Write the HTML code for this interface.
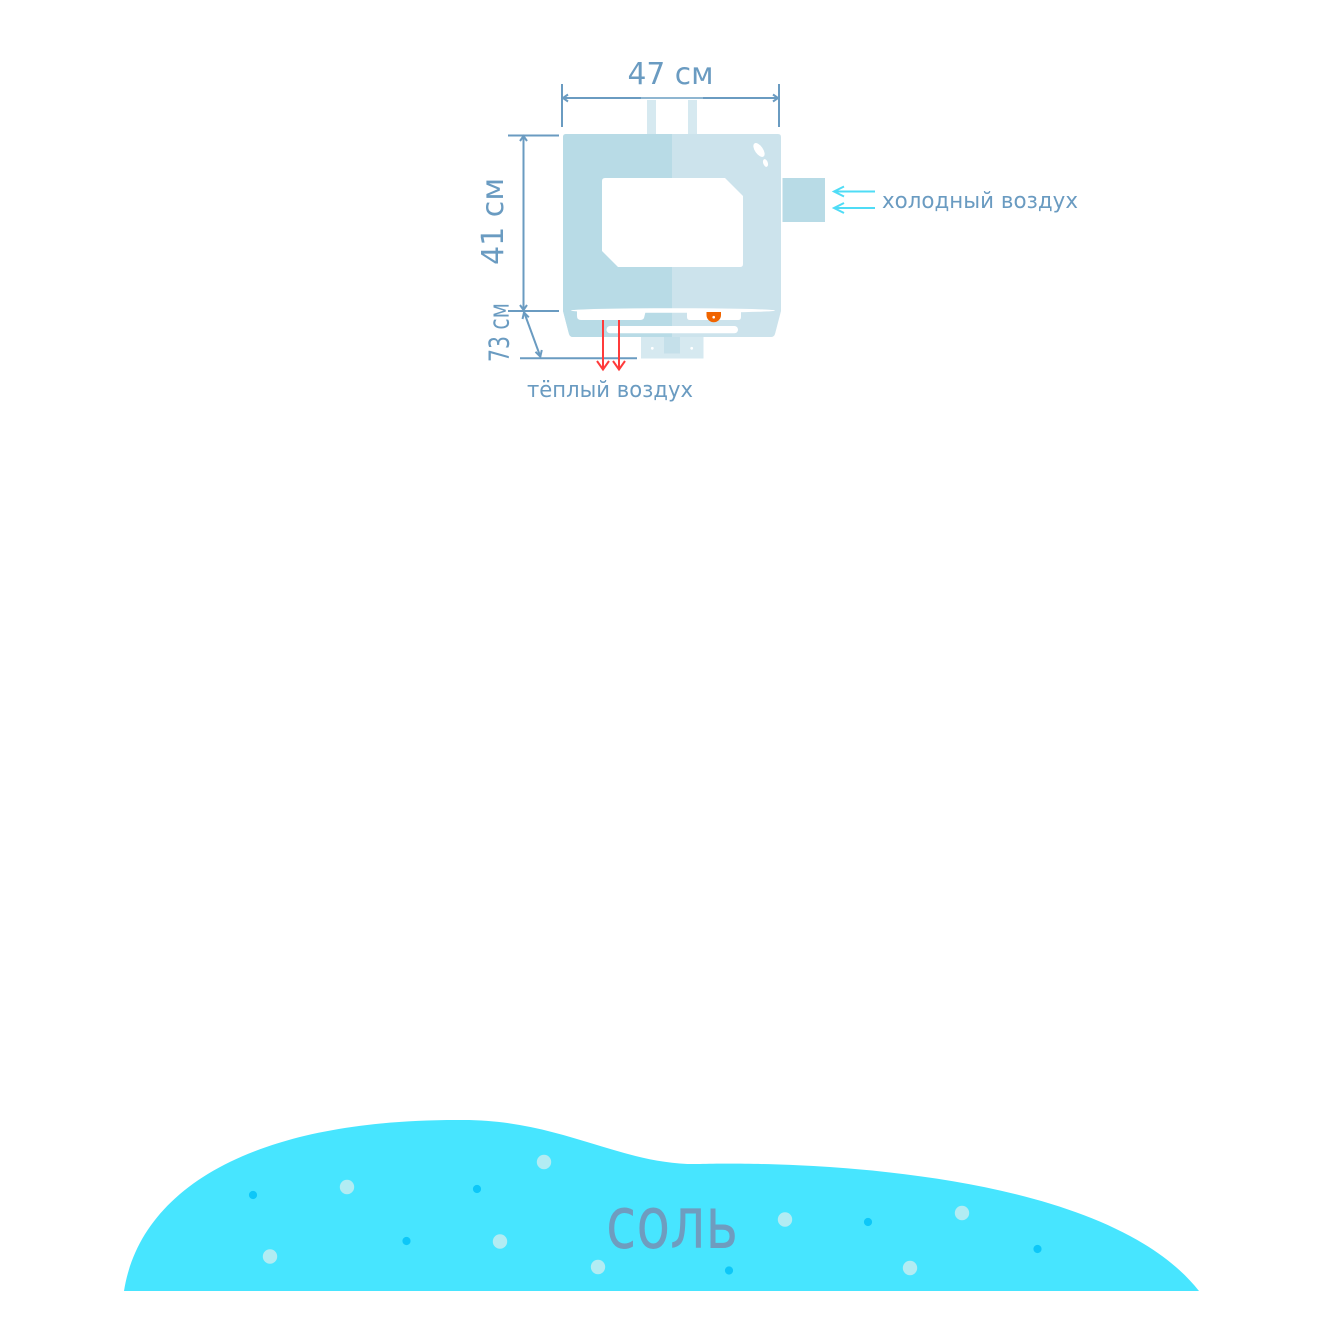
<!DOCTYPE html>
<html>
<head>
<meta charset="utf-8">
<style>
  html,body{margin:0;padding:0;background:#ffffff;}
  svg{display:block;}
  text{font-family:"DejaVu Sans","Liberation Sans",sans-serif;}
</style>
</head>
<body>
<svg width="1323" height="1324" viewBox="0 0 1323 1324" xmlns="http://www.w3.org/2000/svg">
  <defs>
    <clipPath id="leftHalf"><rect x="0" y="0" width="672" height="400"/></clipPath>
  </defs>
  <rect x="0" y="0" width="1323" height="1324" fill="#ffffff"/>

  <!-- pipes -->
  <rect x="647" y="100" width="9" height="35" fill="#d6e9f0"/>
  <rect x="688" y="100" width="9" height="35" fill="#d6e9f0"/>

  <!-- heater body (right colour) -->
  <path d="M563,137 Q563,134 566,134 H778 Q781,134 781,137 V311 L775,334 Q774,337 771,337 H573 Q570,337 569,334 L563,311 Z" fill="#cce3ec"/>
  <!-- left darker half -->
  <path clip-path="url(#leftHalf)" d="M563,137 Q563,134 566,134 H778 Q781,134 781,137 V311 L775,334 Q774,337 771,337 H573 Q570,337 569,334 L563,311 Z" fill="#b8dbe6"/>

  <!-- window -->
  <path d="M605,178 H725 L743,196 V264 Q743,267 740,267 H618 L602,251 V181 Q602,178 605,178 Z" fill="#ffffff"/>

  <!-- highlights -->
  <ellipse cx="759" cy="150" rx="4" ry="8" transform="rotate(-35 759 150)" fill="#ffffff"/>
  <ellipse cx="765.5" cy="163" rx="2.3" ry="4" transform="rotate(-20 765.5 163)" fill="#ffffff"/>

  <!-- side box -->
  <rect x="782.5" y="178" width="42.5" height="44" fill="#b8dbe6"/>

  <!-- lens + tabs -->
  <ellipse cx="673" cy="310.5" rx="102" ry="2.3" fill="#ffffff"/>
  <path d="M577,310 H646 L644,318 Q643,320 640,320 H581 Q577,320 577,316 Z" fill="#ffffff"/>
  <path d="M687,310 H741 L741,317 Q741,320 738,320 H690 Q687,320 687,317 Z" fill="#ffffff"/>
  <!-- orange knob -->
  <path d="M706.5,312 H721 V315 A7.25,7.25 0 0 1 706.5,315 Z" fill="#f06400"/>
  <circle cx="713.7" cy="317.2" r="1.3" fill="#ffffff"/>
  <!-- white bar -->
  <rect x="606.5" y="326" width="131.5" height="7.3" rx="3.6" fill="#ffffff"/>

  <!-- bracket -->
  <rect x="641" y="337" width="62.5" height="21.5" fill="#d6e9f0"/>
  <rect x="664" y="337" width="16" height="16.5" fill="#c5e0ea"/>
  <circle cx="652.3" cy="348.3" r="1.4" fill="#ffffff"/>
  <circle cx="691.7" cy="348.3" r="1.4" fill="#ffffff"/>

  <!-- dimension lines -->
  <g stroke="#6a9bc1" stroke-width="2" fill="none" stroke-linecap="butt">
    <!-- horizontal 47 -->
    <line x1="562" y1="98" x2="641" y2="98"/>
    <line x1="703" y1="98" x2="779" y2="98"/>
    <line x1="562" y1="84" x2="562" y2="127"/>
    <line x1="779" y1="84" x2="779" y2="127"/>
    <polyline points="568,94.5 563,98 568,101.5" stroke-linejoin="miter"/>
    <polyline points="773,94.5 778,98 773,101.5"/>
    <!-- vertical 41 -->
    <line x1="523.5" y1="135" x2="523.5" y2="311"/>
    <line x1="508" y1="135.5" x2="559" y2="135.5"/>
    <line x1="508" y1="311" x2="559" y2="311"/>
    <polyline points="520,141 523.5,136 527,141"/>
    <polyline points="520,305 523.5,310 527,305"/>
    <!-- diagonal 73 -->
    <line x1="524" y1="312" x2="540.5" y2="357"/>
    <line x1="520" y1="358.3" x2="637" y2="358.3"/>
    <polyline points="522.5,319 524,312.5 528.8,317.3"/>
    <polyline points="535.5,351.8 540.3,356.6 541.8,350"/>
  </g>
  <line x1="641" y1="98" x2="703" y2="98" stroke="#8fb6d1" stroke-width="2"/>

  <!-- dimension labels -->
  <text x="670.5" y="84" font-size="30" fill="#6a9bc1" text-anchor="middle" textLength="86" lengthAdjust="spacingAndGlyphs">47 см</text>
  <text transform="translate(503,221.5) rotate(-90)" x="0" y="0" font-size="30" fill="#6a9bc1" text-anchor="middle" textLength="87" lengthAdjust="spacingAndGlyphs">41 см</text>
  <text transform="translate(508.3,332.5) rotate(-90)" x="0" y="0" font-size="28" fill="#6a9bc1" text-anchor="middle" textLength="59" lengthAdjust="spacingAndGlyphs">73 см</text>

  <!-- warm air arrows -->
  <g stroke="#ff3b3b" stroke-width="2" fill="none">
    <line x1="603" y1="320" x2="603" y2="369"/>
    <line x1="619" y1="320" x2="619" y2="369"/>
    <polyline points="597,361 603,369.5 609,361"/>
    <polyline points="613,361 619,369.5 625,361"/>
  </g>
  <text x="527" y="397" font-size="22" fill="#6a9bc1" textLength="166" lengthAdjust="spacingAndGlyphs">тёплый воздух</text>

  <!-- cold air arrows -->
  <g stroke="#4fdcf6" stroke-width="2" fill="none">
    <line x1="834" y1="191.5" x2="875" y2="191.5"/>
    <line x1="834" y1="208" x2="875" y2="208"/>
    <polyline points="844,186.5 834,191.5 844,196.5"/>
    <polyline points="844,203 834,208 844,213"/>
  </g>
  <text x="882" y="208" font-size="22" fill="#6a9bc1" textLength="196" lengthAdjust="spacingAndGlyphs">холодный воздух</text>

  <!-- salt blob -->
  <path d="M124,1291 C140,1190 250,1120 457,1120 C560,1118 620,1166 700,1164 C780,1162 1100,1165 1199,1291 Z" fill="#47e5ff"/>
  <g fill="#b2ecf3">
    <circle cx="347" cy="1187" r="7.2"/>
    <circle cx="544" cy="1162" r="7.2"/>
    <circle cx="270" cy="1256.5" r="7.2"/>
    <circle cx="500" cy="1241.5" r="7.2"/>
    <circle cx="598" cy="1267" r="7.2"/>
    <circle cx="785" cy="1219.5" r="7.2"/>
    <circle cx="962" cy="1213" r="7.2"/>
    <circle cx="910" cy="1268" r="7.2"/>
  </g>
  <g fill="#0dc7f8">
    <circle cx="253" cy="1195" r="4.1"/>
    <circle cx="477" cy="1189" r="4.1"/>
    <circle cx="406.5" cy="1241" r="4.1"/>
    <circle cx="729" cy="1270.5" r="4.1"/>
    <circle cx="868" cy="1222" r="4.1"/>
    <circle cx="1037.5" cy="1249" r="4.1"/>
  </g>
  <text x="606" y="1248" font-size="72" fill="#6f9cbf" textLength="132" lengthAdjust="spacingAndGlyphs">соль</text>
</svg>
</body>
</html>
